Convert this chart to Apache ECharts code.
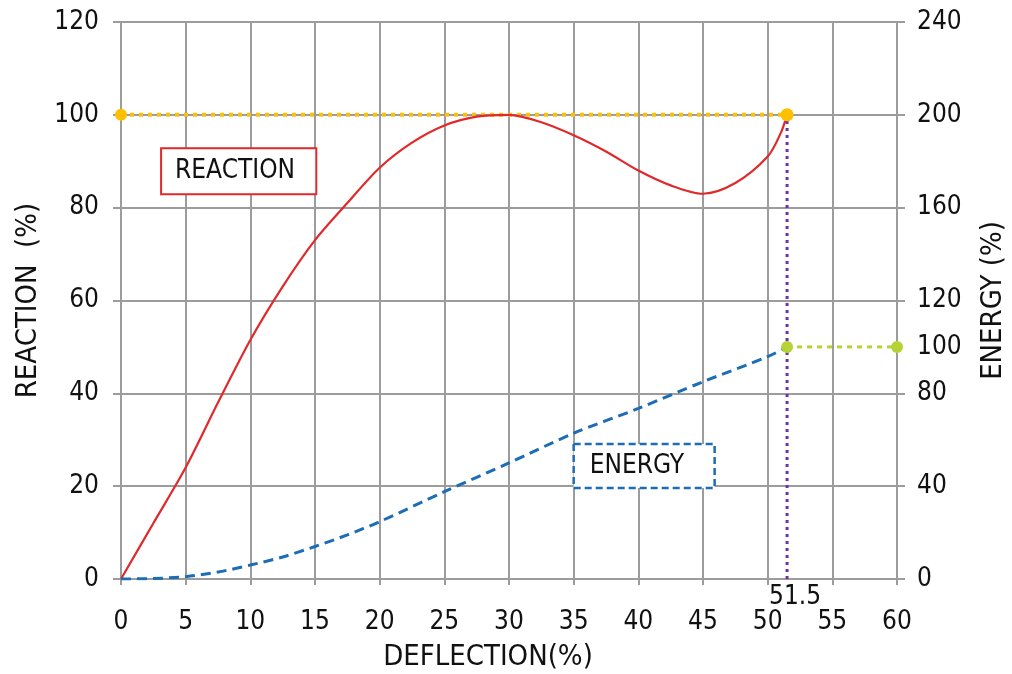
<!DOCTYPE html>
<html>
<head>
<meta charset="utf-8">
<script src="https://cdn.jsdelivr.net/npm/echarts@6/dist/echarts.min.js"></script>
<style>
html,body{margin:0;padding:0;background:#fff;}
#chart{width:1012px;height:674px;}
</style>
</head>
<body>
<div id="chart"></div>
<script>
// ---- data ----
const reactionX = [0, 2.5, 5, 7.5, 10, 12.5, 15, 17.5, 20, 22.5, 25, 27.5, 30, 32.5, 35, 37.5, 40, 42.5, 45, 47.5, 50, 51, 51.5];
const reactionY = [0, 12, 24, 38, 51.5, 63, 73, 81, 88.6, 94, 97.7, 99.6, 100, 98.4, 95.6, 92.1, 88, 84.8, 83, 85.3, 91, 96, 100];
const energyX = [0, 2.5, 5, 7.5, 10, 12.5, 15, 17.5, 20, 25, 30, 35, 40, 45, 50, 51.5];
const energyY = [0, 0.2, 1, 3, 6, 9.5, 14, 19, 24.7, 37.6, 50, 62.8, 73.5, 85, 95.8, 100];
const limitX = 51.5;          // max deflection
const limitReaction = 100;     // reaction limit
const limitEnergy = 100;       // energy at limit
const xMaxValue = 60;
const leftTicks = [0, 20, 40, 60, 80, 100, 120];
const rightTicks = [0, 40, 80, 100, 120, 160, 200, 240];
const labelReaction = 'REACTION';
const labelEnergy = 'ENERGY';

const FONT = "'Liberation Sans Narrow', 'DejaVu Sans Condensed', 'Arial Narrow', sans-serif";
const GRID = '#9c9c9c';
const RED = '#e0292b';
const BLUE = '#1c6db5';
const YELLOW = '#ffc000';
const GREEN = '#b5d334';
const PURPLE = '#7030a0';

const chart = echarts.init(document.getElementById('chart'), null, {renderer: 'canvas'});

const tickFont = {fontFamily: FONT, fontSize: 26, color: '#111'};
const nameFont = {fontFamily: FONT, fontSize: 29, color: '#111'};

const option = {
  animation: false,
  backgroundColor: '#fff',
  textStyle: {fontFamily: FONT},
  grid: {left: 121, right: 115, top: 22, bottom: 95, containLabel: false, outerBoundsMode: 'none'},
  xAxis: {
    type: 'value', min: 0, max: xMaxValue, interval: 5,
    name: 'DEFLECTION(%)', nameLocation: 'middle', nameGap: 64,
    nameTextStyle: Object.assign({}, nameFont, {padding: [0, 42, 0, 0]}),
    axisLine: {show: true, lineStyle: {color: GRID, width: 2}},
    axisTick: {show: true, length: 6, lineStyle: {color: GRID, width: 2}},
    axisLabel: Object.assign({margin: 30}, tickFont),
    splitLine: {show: true, lineStyle: {color: GRID, width: 2}}
  },
  yAxis: [
    {
      type: 'value', min: leftTicks[0], max: leftTicks[leftTicks.length - 1], interval: 20,
      position: 'left',
      name: 'REACTION  (%)', nameLocation: 'middle', nameGap: 78, nameRotate: 90,
      nameTextStyle: nameFont,
      axisLine: {show: true, lineStyle: {color: GRID, width: 2}},
      axisTick: {show: true, length: 8, lineStyle: {color: GRID, width: 2}},
      axisLabel: Object.assign({margin: 22}, tickFont),
      splitLine: {show: true, lineStyle: {color: GRID, width: 2}}
    },
    {
      type: 'value', min: rightTicks[0], max: rightTicks[rightTicks.length - 1], interval: 40,
      position: 'right', offset: 0,
      name: 'ENERGY (%)', nameLocation: 'middle', nameGap: 82, nameRotate: 90,
      nameTextStyle: nameFont,
      axisLine: {show: true, lineStyle: {color: GRID, width: 2}},
      axisTick: {show: true, length: 8, lineStyle: {color: GRID, width: 2}},
      axisLabel: Object.assign({margin: 20}, tickFont),
      splitLine: {show: false}
    },
    {
      type: 'value', min: rightTicks[0], max: rightTicks[rightTicks.length - 1], interval: 20,
      position: 'right', offset: 0,
      axisLine: {show: false}, axisTick: {show: false}, splitLine: {show: false},
      axisLabel: Object.assign({margin: 20, formatter: function (v) {
        return (rightTicks.indexOf(v) >= 0 && v % 40 !== 0) ? String(v) : '';
      }}, tickFont)
    }
  ],
  series: [
    {
      name: 'reactionLimit', type: 'line', yAxisIndex: 0, z: 3,
      data: [[0, limitReaction], [limitX, limitReaction]],
      symbol: 'circle', symbolSize: 12, showSymbol: true,
      itemStyle: {color: YELLOW},
      lineStyle: {color: YELLOW, width: 4, type: [4, 5]}
    },
    {
      name: 'reaction', type: 'line', yAxisIndex: 0, z: 4,
      data: reactionX.map((x, i) => [x, reactionY[i]]),
      smooth: 0.3, showSymbol: false, symbol: 'none',
      lineStyle: {color: RED, width: 2.2}
    },
    {
      name: 'energy', type: 'line', yAxisIndex: 1, z: 4,
      data: energyX.map((x, i) => [x, energyY[i]]),
      smooth: 0.3, showSymbol: false, symbol: 'none',
      lineStyle: {color: BLUE, width: 3, type: [10, 6]}
    },
    {
      name: 'deflectionLimit', type: 'line', yAxisIndex: 0, z: 5,
      data: [[limitX, 0], [limitX, limitReaction]],
      symbol: 'none', showSymbol: false,
      lineStyle: {color: PURPLE, width: 3, type: [3, 4]},
      markPoint: {
        symbol: 'circle', symbolSize: 0,
        data: [{coord: [limitX, 0], value: String(limitX)}],
        label: {show: true, position: 'bottom', distance: 5, offset: [8, 0],
          formatter: String(limitX), fontFamily: FONT, fontSize: 26, color: '#111'}
      }
    },
    {
      name: 'energyLimit', type: 'line', yAxisIndex: 1, z: 6,
      data: [[limitX, limitEnergy], [xMaxValue, limitEnergy]],
      symbol: 'circle', symbolSize: 12, showSymbol: true,
      itemStyle: {color: GREEN},
      lineStyle: {color: GREEN, width: 3, type: [5, 5]}
    },
    {
      name: 'reactionLimitTop', type: 'line', yAxisIndex: 0, z: 7,
      data: [[limitX, limitReaction]],
      symbol: 'circle', symbolSize: 13, showSymbol: true,
      itemStyle: {color: YELLOW}, lineStyle: {width: 0}
    }
  ]
};
chart.setOption(option);

// annotation boxes anchored in data coordinates
function box(tl, br, color, dashed, text, textPad) {
  const p1 = chart.convertToPixel({gridIndex: 0}, tl);
  const p2 = chart.convertToPixel({gridIndex: 0}, br);
  return [
    {type: 'rect', z: 20, shape: {x: p1[0], y: p1[1], width: p2[0] - p1[0], height: p2[1] - p1[1]},
      style: {fill: '#fff', stroke: color, lineWidth: dashed ? 2.5 : 2, lineDash: dashed ? [7, 4] : null}},
    {type: 'text', z: 21, x: p1[0] + textPad, y: (p1[1] + p2[1]) / 2,
      style: {text: text, fill: '#111', font: '26px ' + FONT, textVerticalAlign: 'middle', verticalAlign: 'middle'}}
  ];
}
chart.setOption({
  graphic: [].concat(
    box([3.1, 92.8], [15.1, 82.9], RED, false, labelReaction, 14),
    box([35.0, 29.1], [45.9, 19.6], BLUE, true, labelEnergy, 16)
  )
});
</script>
</body>
</html>
